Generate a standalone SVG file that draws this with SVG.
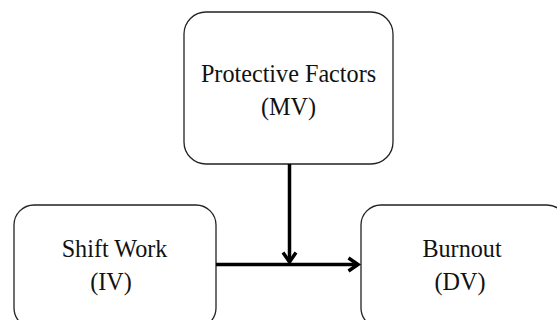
<svg xmlns="http://www.w3.org/2000/svg" width="557" height="320" viewBox="0 0 557 320">
<style>
.box{fill:#fff;stroke:#222;stroke-width:1.3}
.lbl{font-family:"Liberation Serif","Times New Roman",serif;font-size:26px;fill:#111;text-anchor:middle}
.conn{stroke:#000;stroke-width:3.5;fill:none}
.head{stroke:#000;stroke-width:3.5;fill:none;stroke-linecap:butt;stroke-linejoin:miter}
</style>
<rect width="557" height="320" fill="#fff"/>
<g id="node-protective">
<rect class="box" x="184" y="12" width="209" height="152" rx="22"/>
<text class="lbl" transform="translate(288.5,82) scale(0.93,1)">Protective Factors</text>
<text class="lbl" transform="translate(288.5,115) scale(0.93,1)">(MV)</text>
</g>
<g id="node-shiftwork">
<rect class="box" x="14" y="205" width="202" height="123" rx="20"/>
<text class="lbl" transform="translate(114.5,257) scale(0.93,1)">Shift Work</text>
<text class="lbl" transform="translate(111,290) scale(0.93,1)">(IV)</text>
</g>
<g id="node-burnout">
<rect class="box" x="361" y="205" width="206" height="123" rx="20"/>
<text class="lbl" transform="translate(462,257) scale(0.93,1)">Burnout</text>
<text class="lbl" transform="translate(460,290) scale(0.93,1)">(DV)</text>
</g>
<g id="connectors">
<path class="conn" d="M216 264.5 H358"/>
<path class="head" d="M348.5 258 L358 264.5 L348.5 271"/>
<path class="conn" d="M289.5 164 V262"/>
<path class="head" d="M283 252.5 L289.5 262 L296 252.5"/>
</g>
</svg>
